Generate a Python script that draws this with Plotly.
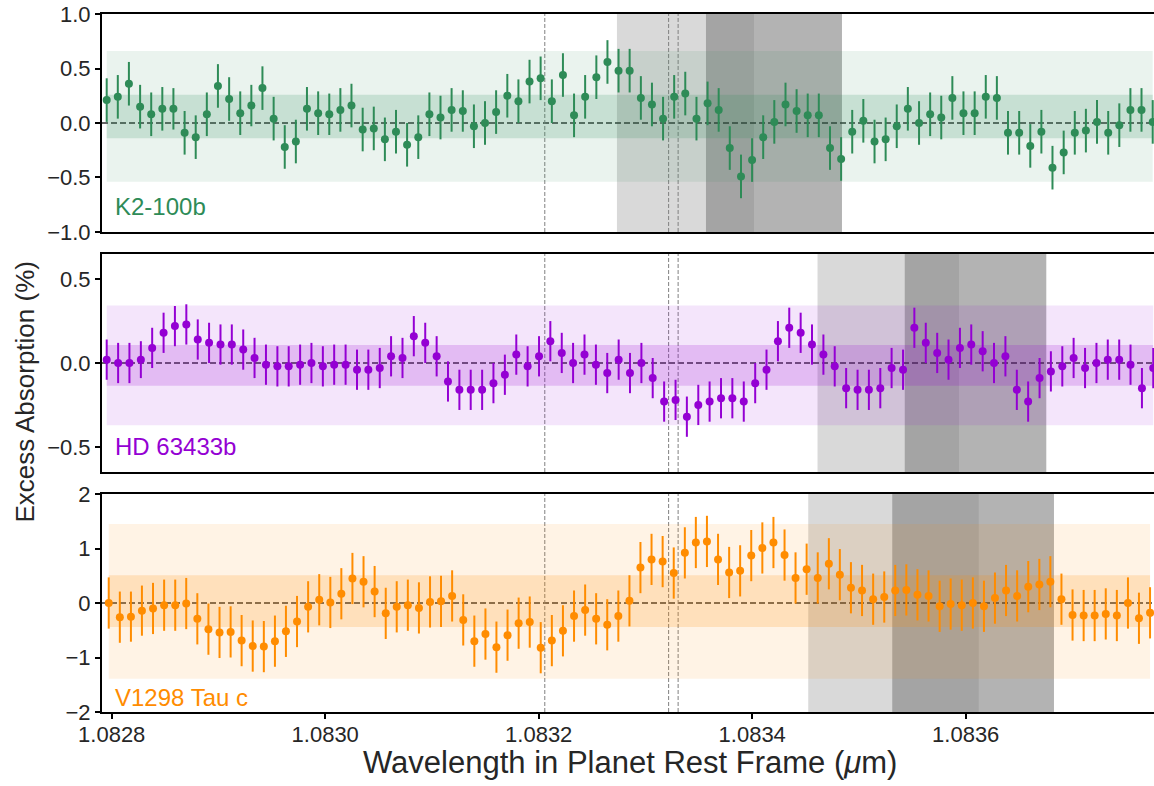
import numpy as np
import plotly.graph_objects as go
from plotly.subplots import make_subplots

# ---------------- data ----------------
# wavelength grids, in units of 1e-7 micron above 1.08 micron
WL1_E7 = [27953, 28057, 28161, 28266, 28370, 28474, 28578, 28683, 28787, 28891,
          28995, 29100, 29204, 29308, 29412, 29517, 29621, 29725, 29829, 29934,
          30038, 30142, 30246, 30351, 30455, 30559, 30663, 30767, 30872, 30976,
          31080, 31184, 31289, 31393, 31497, 31601, 31706, 31810, 31914, 32018,
          32123, 32227, 32331, 32435, 32540, 32644, 32748, 32852, 32957, 33061,
          33165, 33269, 33373, 33478, 33582, 33686, 33790, 33895, 33999, 34103,
          34207, 34312, 34416, 34520, 34624, 34729, 34833, 34937, 35041, 35146,
          35250, 35354, 35458, 35563, 35667, 35771, 35875, 35979, 36084, 36188,
          36292, 36396, 36501, 36605, 36709, 36813, 36918, 37022, 37126, 37230,
          37335, 37439, 37543, 37647, 37752]
WL2_E7 = [27953, 28060, 28166, 28273, 28379, 28486, 28592, 28699, 28806, 28912,
          29019, 29125, 29232, 29338, 29445, 29552, 29658, 29765, 29871, 29978,
          30084, 30191, 30298, 30404, 30511, 30617, 30724, 30830, 30937, 31044,
          31150, 31257, 31363, 31470, 31576, 31683, 31790, 31896, 32003, 32109,
          32216, 32322, 32429, 32536, 32642, 32749, 32855, 32962, 33068, 33175,
          33282, 33388, 33495, 33601, 33708, 33814, 33921, 34028, 34134, 34241,
          34347, 34454, 34560, 34667, 34773, 34880, 34987, 35093, 35200, 35306,
          35413, 35519, 35626, 35733, 35839, 35946, 36052, 36159, 36265, 36372,
          36479, 36585, 36692, 36798, 36905, 37011, 37118, 37225, 37331, 37438,
          37544, 37651, 37757]
WL3_E7 = [27972, 28076, 28180, 28283, 28387, 28491, 28595, 28698, 28802, 28906,
          29010, 29114, 29217, 29321, 29425, 29529, 29632, 29736, 29840, 29944,
          30048, 30151, 30255, 30359, 30463, 30567, 30670, 30774, 30878, 30982,
          31085, 31189, 31293, 31397, 31501, 31604, 31708, 31812, 31916, 32019,
          32123, 32227, 32331, 32435, 32538, 32642, 32746, 32850, 32953, 33057,
          33161, 33265, 33369, 33472, 33576, 33680, 33784, 33887, 33991, 34095,
          34199, 34303, 34406, 34510, 34614, 34718, 34821, 34925, 35029, 35133,
          35237, 35340, 35444, 35548, 35652, 35756, 35859, 35963, 36067, 36171,
          36274, 36378, 36482, 36586, 36690, 36793, 36897, 37001, 37105, 37208,
          37312, 37416, 37520, 37623, 37727]

# excess absorption (%)
ABS_K2 = [0.21, 0.24, 0.36, 0.15, 0.08, 0.13, 0.13, -0.09, -0.13, 0.08,
          0.34, 0.22, 0.09, 0.16, 0.32, 0.04, -0.22, -0.17, 0.13, 0.09,
          0.08, 0.12, 0.16, -0.06, -0.05, -0.15, -0.08, -0.20, -0.13, 0.08,
          0.05, 0.12, 0.11, -0.03, 0.00, 0.10, 0.25, 0.20, 0.38, 0.41,
          0.20, 0.44, 0.07, 0.24, 0.42, 0.56, 0.48, 0.48, 0.23, 0.17,
          0.04, 0.24, 0.27, 0.04, 0.18, 0.12, -0.23, -0.49, -0.34, -0.13,
          0.01, 0.17, 0.11, 0.07, 0.07, -0.23, -0.33, -0.08, 0.02, -0.17,
          -0.15, -0.03, 0.13, 0.00, 0.08, 0.05, 0.23, 0.09, 0.09, 0.24,
          0.23, -0.09, -0.09, -0.21, -0.08, -0.41, -0.27, -0.09, -0.07, 0.01,
          -0.09, -0.02, 0.12, 0.12, 0.01]
ERR_K2 = [0.20, 0.20, 0.20, 0.20, 0.20, 0.20, 0.19, 0.20, 0.20, 0.20,
          0.20, 0.20, 0.20, 0.19, 0.20, 0.20, 0.20, 0.20, 0.20, 0.20,
          0.19, 0.20, 0.20, 0.20, 0.20, 0.20, 0.20, 0.20, 0.20, 0.20,
          0.20, 0.20, 0.19, 0.20, 0.20, 0.20, 0.20, 0.20, 0.20, 0.20,
          0.20, 0.20, 0.20, 0.20, 0.20, 0.20, 0.20, 0.20, 0.20, 0.20,
          0.20, 0.20, 0.20, 0.20, 0.20, 0.20, 0.20, 0.20, 0.20, 0.20,
          0.20, 0.20, 0.20, 0.20, 0.20, 0.20, 0.20, 0.20, 0.20, 0.20,
          0.20, 0.20, 0.20, 0.20, 0.20, 0.20, 0.20, 0.20, 0.20, 0.20,
          0.20, 0.20, 0.20, 0.20, 0.20, 0.20, 0.20, 0.20, 0.20, 0.20,
          0.20, 0.20, 0.20, 0.20, 0.20]

ABS_HD = [0.02, 0.00, 0.00, 0.02, 0.09, 0.18, 0.22, 0.23, 0.14, 0.12,
          0.11, 0.11, 0.08, 0.03, -0.01, -0.02, -0.02, -0.01, 0.00, -0.02,
          -0.01, -0.01, -0.04, -0.04, -0.03, 0.04, 0.03, 0.16, 0.12, 0.04,
          -0.11, -0.16, -0.16, -0.16, -0.12, -0.07, 0.05, -0.02, 0.04, 0.13,
          0.06, 0.00, 0.05, -0.01, -0.06, 0.02, -0.06, 0.00, -0.09, -0.23,
          -0.22, -0.32, -0.25, -0.23, -0.21, -0.21, -0.23, -0.12, -0.04, 0.13,
          0.21, 0.18, 0.11, 0.05, -0.02, -0.15, -0.16, -0.16, -0.15, -0.03,
          -0.04, 0.21, 0.12, 0.06, 0.02, 0.09, 0.11, 0.07, 0.00, 0.04,
          -0.16, -0.23, -0.09, -0.05, -0.02, 0.03, -0.03, 0.00, 0.02, 0.02,
          -0.01, -0.15, -0.03]
ERR_HD = [0.12, 0.12, 0.12, 0.11, 0.12, 0.12, 0.12, 0.12, 0.12, 0.12,
          0.12, 0.12, 0.12, 0.12, 0.12, 0.12, 0.12, 0.12, 0.12, 0.12,
          0.12, 0.12, 0.12, 0.12, 0.12, 0.12, 0.12, 0.12, 0.12, 0.12,
          0.12, 0.12, 0.12, 0.12, 0.12, 0.12, 0.12, 0.12, 0.12, 0.12,
          0.12, 0.12, 0.12, 0.12, 0.12, 0.12, 0.12, 0.12, 0.12, 0.12,
          0.12, 0.12, 0.12, 0.12, 0.12, 0.12, 0.12, 0.12, 0.12, 0.12,
          0.12, 0.12, 0.12, 0.12, 0.12, 0.12, 0.12, 0.12, 0.12, 0.12,
          0.12, 0.12, 0.12, 0.12, 0.12, 0.12, 0.12, 0.12, 0.12, 0.12,
          0.12, 0.12, 0.12, 0.12, 0.12, 0.12, 0.12, 0.12, 0.12, 0.12,
          0.12, 0.12, 0.12]

ABS_V1298 = [0.00, -0.26, -0.25, -0.14, -0.10, -0.04, -0.04, -0.01, -0.29, -0.48,
             -0.54, -0.53, -0.69, -0.79, -0.80, -0.70, -0.52, -0.34, -0.07, 0.06,
             0.01, 0.17, 0.45, 0.39, 0.21, -0.19, -0.07, -0.04, -0.09, 0.02,
             0.03, 0.13, -0.31, -0.70, -0.57, -0.81, -0.59, -0.37, -0.35, -0.82,
             -0.69, -0.51, -0.24, -0.13, -0.29, -0.40, -0.24, 0.04, 0.65, 0.80,
             0.76, 0.55, 0.92, 1.11, 1.13, 0.80, 0.56, 0.59, 0.87, 1.01,
             1.11, 0.88, 0.46, 0.62, 0.46, 0.72, 0.52, 0.28, 0.23, 0.07,
             0.11, 0.23, 0.24, 0.15, 0.13, -0.06, -0.02, -0.04, 0.00, -0.06,
             0.09, 0.23, 0.13, 0.30, 0.34, 0.39, 0.07, -0.22, -0.23, -0.23,
             -0.20, -0.23, 0.00, -0.28, -0.18]
ERR_V1298 = [0.47, 0.47, 0.46, 0.46, 0.47, 0.47, 0.47, 0.47, 0.47, 0.47,
             0.47, 0.47, 0.47, 0.47, 0.47, 0.47, 0.47, 0.47, 0.47, 0.47,
             0.47, 0.47, 0.47, 0.47, 0.47, 0.47, 0.47, 0.47, 0.47, 0.47,
             0.47, 0.47, 0.47, 0.47, 0.47, 0.47, 0.47, 0.47, 0.47, 0.47,
             0.47, 0.47, 0.47, 0.47, 0.47, 0.47, 0.47, 0.47, 0.47, 0.47,
             0.47, 0.47, 0.47, 0.47, 0.47, 0.47, 0.47, 0.47, 0.47, 0.47,
             0.47, 0.47, 0.47, 0.47, 0.47, 0.47, 0.47, 0.47, 0.47, 0.47,
             0.47, 0.47, 0.47, 0.47, 0.47, 0.47, 0.47, 0.47, 0.47, 0.47,
             0.47, 0.47, 0.47, 0.47, 0.47, 0.47, 0.47, 0.47, 0.47, 0.47,
             0.47, 0.47, 0.47, 0.47, 0.47]

PLANETS = ["K2-100b", "HD 63433b", "V1298 Tau c"]
COLORS = ["#2E8B57", "#9400D3", "#FF8C00"]
COLORS_RGB = [(46, 139, 87), (148, 0, 211), (255, 140, 0)]

# scatter bands (low, high) in %
BAND_INNER = [(-0.14, 0.26), (-0.135, 0.107), (-0.44, 0.51)]
BAND_OUTER = [(-0.54, 0.66), (-0.371, 0.343), (-1.39, 1.45)]

# shaded wavelength windows (micron): first and second window per panel
WINDOW_A = [(1.0832733, 1.0834017), (1.0834612, 1.0835937), (1.0834525, 1.0836122)]
WINDOW_B = [(1.0833567, 1.0834841), (1.0835429, 1.0836755), (1.0835312, 1.0836827)]

# He I triplet lines (micron)
HE_LINES = [1.0832057, 1.0833217, 1.0833306]

Y_RANGES = [(-1.0, 1.0), (-0.65, 0.65), (-2.0, 2.0)]
Y_TICKS = [[-1.0, -0.5, 0.0, 0.5, 1.0], [-0.5, 0.0, 0.5], [-2, -1, 0, 1, 2]]
Y_FORMATS = [".1f", ".1f", "d"]
X_RANGE = (1.0827909, 1.0837764)
X_TICKS = [1.0828, 1.0830, 1.0832, 1.0834, 1.0836]

LABEL_Y = [0.115, 0.116, 0.066]

# ---------------- figure ----------------
WL = [WL1_E7, WL2_E7, WL3_E7]
ABS = [ABS_K2, ABS_HD, ABS_V1298]
ERR = [ERR_K2, ERR_HD, ERR_V1298]

FONT = "Liberation Sans, Arial, sans-serif"
TXT = "#262626"

fig = make_subplots(rows=3, cols=1, shared_xaxes=True, vertical_spacing=0.03)

domains = [[0.6877, 1.0], [0.3438, 0.6562], [0.0, 0.3123]]
shapes = []
annotations = []
for i in range(3):
    xs = 1.08 + np.array(WL[i]) * 1e-7
    r, g, b = COLORS_RGB[i]
    xr = "x" if i == 0 else f"x{i+1}"
    yr = "y" if i == 0 else f"y{i+1}"
    # bands
    shapes.append(dict(type="rect", xref=xr, yref=yr, x0=xs[0], x1=xs[-1],
                       y0=BAND_OUTER[i][0], y1=BAND_OUTER[i][1],
                       fillcolor=f"rgba({r},{g},{b},0.10)", line=dict(width=0), layer="below"))
    shapes.append(dict(type="rect", xref=xr, yref=yr, x0=xs[0], x1=xs[-1],
                       y0=BAND_INNER[i][0], y1=BAND_INNER[i][1],
                       fillcolor=f"rgba({r},{g},{b},0.18)", line=dict(width=0), layer="below"))
    # grey windows
    shapes.append(dict(type="rect", xref=xr, yref=f"{yr} domain", x0=WINDOW_A[i][0], x1=WINDOW_A[i][1],
                       y0=0, y1=1, fillcolor="rgba(128,128,128,0.30)", line=dict(width=0), layer="below"))
    shapes.append(dict(type="rect", xref=xr, yref=f"{yr} domain", x0=WINDOW_B[i][0], x1=WINDOW_B[i][1],
                       y0=0, y1=1, fillcolor="rgba(128,128,128,0.60)", line=dict(width=0), layer="below"))
    # zero line
    shapes.append(dict(type="line", xref=f"{xr} domain", yref=yr, x0=0, x1=1, y0=0, y1=0,
                       line=dict(color="#333333", width=1.6, dash="6px,3px"), layer="below"))
    # He lines
    for wl in HE_LINES:
        shapes.append(dict(type="line", xref=xr, yref=f"{yr} domain", x0=wl, x1=wl, y0=0, y1=1,
                           line=dict(color="#808080", width=1, dash="4px,2px"), layer="below"))

    fig.add_trace(go.Scatter(
        x=xs, y=ABS[i], mode="markers",
        marker=dict(size=8, color=COLORS[i]),
        error_y=dict(type="data", array=ERR[i], thickness=2, width=0, color=COLORS[i]),
        showlegend=False, hoverinfo="skip"), row=i + 1, col=1)

    annotations.append(dict(text=PLANETS[i], xref=f"{xr} domain", yref=f"{yr} domain",
                            x=0.0105, y=LABEL_Y[i], xanchor="left", yanchor="middle",
                            showarrow=False, font=dict(size=24, color=COLORS[i], family=FONT)))

    fig.update_yaxes(row=i + 1, col=1, domain=domains[i], range=list(Y_RANGES[i]),
                     tickvals=Y_TICKS[i], tickformat=Y_FORMATS[i],
                     showline=True, linewidth=2, linecolor="black", mirror=False,
                     ticks="outside", ticklen=5, tickwidth=1.5, tickcolor="black",
                     showgrid=False, zeroline=False,
                     tickfont=dict(size=22, color=TXT, family=FONT))
    fig.update_xaxes(row=i + 1, col=1, range=list(X_RANGE),
                     showline=True, linewidth=2, linecolor="black", mirror=True,
                     showgrid=False, zeroline=False,
                     ticks="outside" if i == 2 else "", ticklen=5, tickwidth=1.5, tickcolor="black",
                     tickvals=X_TICKS, tickformat=".4f",
                     showticklabels=(i == 2), ticklabelstandoff=-3,
                     tickfont=dict(size=22, color=TXT, family=FONT))

annotations.append(dict(text="Excess Absorption (%)", xref="paper", yref="paper",
                        x=-0.0732, y=0.459, textangle=-90, showarrow=False,
                        xanchor="center", yanchor="middle",
                        font=dict(size=26, color=TXT, family=FONT)))
annotations.append(dict(text="Wavelength in Planet Rest Frame (<i>μ</i>m)", xref="paper", yref="paper",
                        x=0.5019, y=-0.073, showarrow=False,
                        xanchor="center", yanchor="middle",
                        font=dict(size=31, color=TXT, family=FONT)))

fig.update_layout(width=1154, height=786,
                  margin=dict(l=102, r=0, t=14, b=74),
                  paper_bgcolor="white", plot_bgcolor="white",
                  shapes=shapes, annotations=annotations,
                  font=dict(family=FONT, color=TXT))

fig.write_html("out.html")
